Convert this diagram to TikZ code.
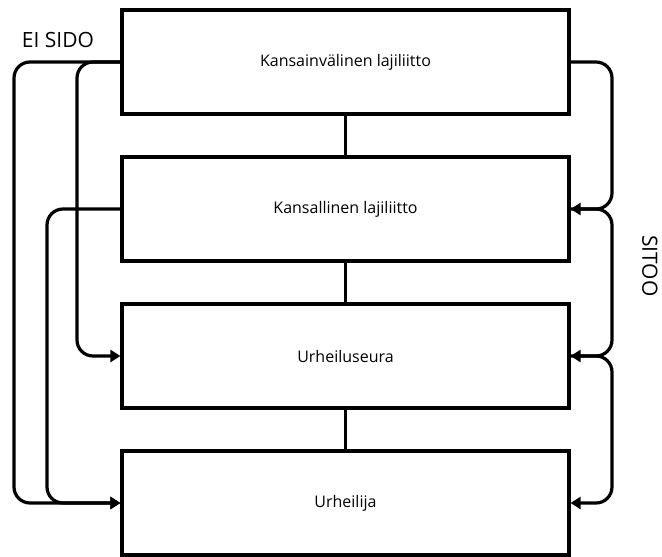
\documentclass[tikz,border=0pt]{standalone}
\usepackage{fontspec}
\setmainfont{Open Sans}
\usetikzlibrary{calc,arrows.meta}
\tikzset{>={Triangle[length=10pt,width=12pt]}}

\begin{document}
\begin{tikzpicture}[x=1pt, y=-1pt, line width=3.2pt,
    every node/.style={font=\fontsize{16}{19}\selectfont},
    levelbox/.style={draw, minimum width=447pt, minimum height=104pt, inner sep=0pt}]
        \useasboundingbox (0,0) rectangle (662,557);

            % The four levels
            \node[levelbox] (intl) at (345.5,62) {Kansainvälinen lajiliitto};
            \node[levelbox] (natl) at (345.5,209) {Kansallinen lajiliitto};
            \node[levelbox] (club) at (345.5,356) {Urheiluseura};
            \node[levelbox] (athl) at (345.5,503) {Urheilija};

            % Vertical links between levels
            \draw (intl.south) -- (natl.north);
            \draw (natl.south) -- (club.north);
            \draw (club.south) -- (athl.north);

            % Rails for the bent arrows
            \coordinate (outer) at (14,0);
            \coordinate (inner) at (77,0);
            \coordinate (middle) at (47,0);
            \coordinate (rail) at (612,0);

            % Left side: not binding
            \draw[->, rounded corners=16pt] (intl.west) -| (outer |- athl.west) -- (athl.west);
            \draw[->, rounded corners=16pt] (intl.west) -| (inner |- club.west) -- (club.west);
            \draw[->, rounded corners=16pt] (natl.west) -| (middle |- athl.west) -- (athl.west);

            % Right side: binding
            \draw[->, rounded corners=16pt] (intl.east) -| (rail |- natl.east) -- (natl.east);
            \draw[->, rounded corners=16pt] (natl.east) -| (rail |- club.east) -- (club.east);
            \draw[->, rounded corners=16pt] (club.east) -| (rail |- athl.east) -- (athl.east);

            % Labels
            \node[font=\fontsize{21}{24}\selectfont] (eisido) at (58,40) {EI SIDO};
            \node[font=\fontsize{21}{24}\selectfont, rotate=-90] (sitoo) at (650,266) {SITOO};

        \end{tikzpicture}
\end{document}
